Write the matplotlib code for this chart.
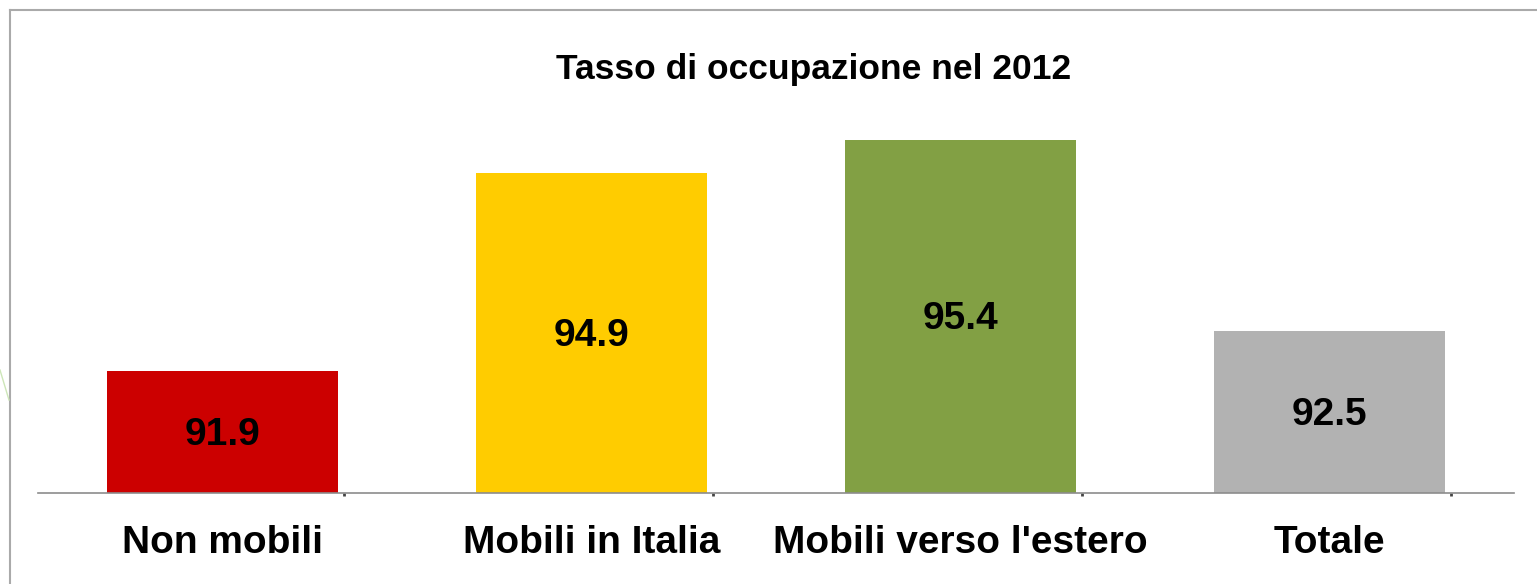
import matplotlib.pyplot as plt
from matplotlib.lines import Line2D

# --- dati ---
categorie = ["Non mobili", "Mobili in Italia", "Mobili verso l'estero", "Totale"]
valori = [91.9, 94.9, 95.4, 92.5]
colori = ["#CC0000", "#FFCC00", "#82A044", "#B2B2B2"]
titolo = "Tasso di occupazione nel 2012"

plt.rcParams['font.family'] = ['Liberation Sans', 'DejaVu Sans']

W, H = 1537, 584
fig = plt.figure(figsize=(W / 100, H / 100), dpi=100)
ax = fig.add_axes([38 / W, (H - 493) / H, 1476 / W, 396 / H])

Y0 = 90.05
x = list(range(len(categorie)))
ax.bar(x, [v - 90 for v in valori], bottom=90, width=0.626, color=colori)

# etichette al centro delle barre
for xi, v in zip(x, valori):
    ax.text(xi, (Y0 + v) / 2 - 0.045, f"{v:.1f}", ha='center', va='center',
            fontsize=28, fontweight='bold', color='black')

ax.set_xlim(-0.5, 3.5)
ax.set_ylim(Y0, Y0 + 6)
ax.set_yticks([])
ax.set_xticks(x)
ax.set_xticklabels(categorie, fontsize=28, fontweight='bold')
ax.tick_params(axis='x', length=0, pad=23)
# piccoli segni sull'asse
ax.set_xticks([xi + 0.33 for xi in x], minor=True)
ax.tick_params(axis='x', which='minor', length=2, width=2, color='#444444')

for s in ['top', 'right', 'left']:
    ax.spines[s].set_visible(False)
ax.spines['bottom'].set_color('#8C8C8C')
ax.spines['bottom'].set_linewidth(1.2)

fig.text(814 / W, 1 - 79 / H, titolo, ha='center', va='baseline',
         fontsize=25.5, fontweight='bold')

# cornice grigia della diapositiva
fig.add_artist(Line2D([10 / W, 1], [1 - 10 / H, 1 - 10 / H],
                      transform=fig.transFigure, color='#AAAAAA', lw=1.5))
fig.add_artist(Line2D([10 / W, 10 / W], [0, 1 - 10 / H],
                      transform=fig.transFigure, color='#AAAAAA', lw=1.5))
fig.add_artist(Line2D([0, 9 / W], [1 - 370 / H, 1 - 400 / H],
                      transform=fig.transFigure, color='#CDE6B8', lw=1))

fig.savefig("out.png", dpi=100)
